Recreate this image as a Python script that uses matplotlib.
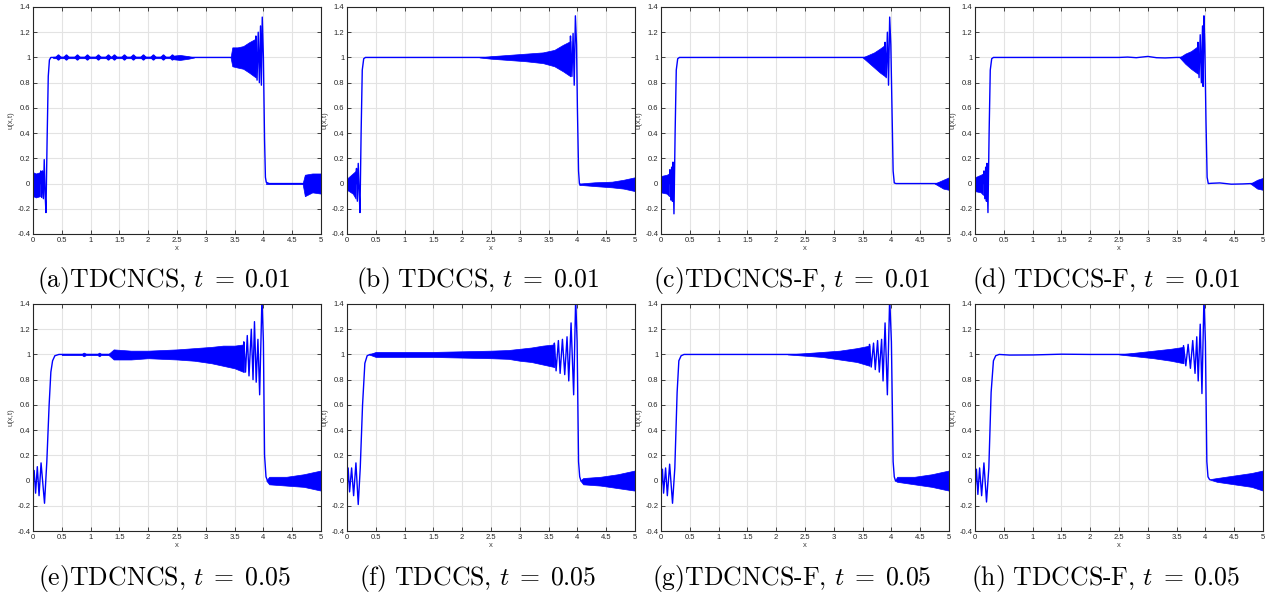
import matplotlib
matplotlib.use("Agg")
import matplotlib.pyplot as plt
from matplotlib.ticker import FormatStrFormatter, MultipleLocator

plt.rcParams['mathtext.fontset'] = 'cm'
plt.rcParams['font.family'] = ['Liberation Sans', 'DejaVu Sans']

BLUE = (0, 0, 1)

# ---- (a) TDCNCS, t = 0.01 ----
a_x = [0.12, 0.135, 0.15, 0.165, 0.18, 0.195, 0.21, 0.225, 0.245, 0.265, 0.285, 0.31, 0.35, 3.45, 3.86,
       3.87, 3.89, 3.91, 3.93, 3.95, 3.965, 3.98, 4.00, 4.02, 4.035, 4.05, 4.10, 5.00]
a_u = [0.0, 0.10, -0.11, 0.10, -0.12, 0.19, -0.08, -0.23, 0.35, 0.85, 0.98, 1.0, 1.0, 1.0, 1.0,
       1.17, 0.82, 1.20, 0.80, 1.25, 0.78, 1.32, 1.0, 0.35, 0.05, 0.01, 0.0, 0.0]
a_bands = [
    ([0.0, 0.05, 0.12], [-0.10, -0.11, -0.10], [0.09, 0.08, 0.09]),
    ([0.35, 2.40, 2.45, 2.55, 2.70, 2.80], [0.994, 0.994, 0.985, 0.98, 0.99, 1.0], [1.006, 1.006, 1.015, 1.02, 1.01, 1.0]),
    ([3.43, 3.46, 3.55, 3.65, 3.75, 3.87], [1.0, 0.93, 0.92, 0.91, 0.88, 0.84], [1.0, 1.08, 1.08, 1.09, 1.12, 1.15]),
    ([4.05, 4.68], [-0.007, -0.007], [0.007, 0.007]),
    ([4.68, 4.72, 4.85, 5.0], [0.0, -0.10, -0.07, -0.08], [0.0, 0.07, 0.08, 0.08]),
]
a_beads = [0.44, 0.58, 0.76, 0.94, 1.13, 1.31, 1.41, 1.58, 1.74, 1.91, 2.09, 2.26, 2.41]

# ---- (b) TDCCS, t = 0.01 ----
b_x = [0.15, 0.165, 0.18, 0.195, 0.21, 0.225, 0.245, 0.265, 0.29, 0.32, 2.30, 3.87,
       3.88, 3.905, 3.925, 3.945, 3.965, 3.985, 4.00, 4.02, 4.035, 4.06]
b_u = [0.0, 0.12, -0.14, 0.16, -0.05, -0.23, 0.40, 0.90, 0.99, 1.0, 1.0, 1.0,
       1.17, 0.85, 1.19, 0.78, 1.33, 1.10, 0.60, 0.10, 0.0, -0.01]
b_bands = [
    ([0.0, 0.10, 0.15], [-0.05, -0.08, -0.12], [0.04, 0.08, 0.10]),
    ([2.3, 2.5, 2.8, 3.1, 3.4, 3.6, 3.75, 3.88], [1.0, 0.99, 0.98, 0.97, 0.955, 0.93, 0.89, 0.85],
     [1.0, 1.01, 1.02, 1.03, 1.04, 1.06, 1.10, 1.13]),
    ([4.03, 4.3, 4.6, 4.8, 5.0], [-0.01, -0.02, -0.03, -0.04, -0.06], [0.0, 0.01, 0.015, 0.03, 0.05]),
]

# ---- (c) TDCNCS-F, t = 0.01 ----
c_x = [0.14, 0.155, 0.17, 0.185, 0.198, 0.208, 0.225, 0.245, 0.265, 0.29, 0.32, 3.50, 3.88,
       3.89, 3.91, 3.93, 3.95, 3.97, 3.99, 4.01, 4.03, 4.05, 4.08, 5.00]
c_u = [0.0, 0.11, -0.13, 0.13, -0.14, 0.17, -0.24, 0.40, 0.90, 0.99, 1.0, 1.0, 1.0,
       1.12, 0.84, 1.20, 0.78, 1.32, 1.10, 0.60, 0.10, 0.005, 0.0, 0.0]
c_bands = [
    ([0.0, 0.10, 0.14], [-0.07, -0.08, -0.10], [0.06, 0.07, 0.08]),
    ([3.5, 3.6, 3.7, 3.8, 3.89], [1.0, 0.96, 0.92, 0.88, 0.85], [1.0, 1.02, 1.04, 1.07, 1.10]),
    ([4.75, 4.9, 5.0], [0.0, -0.04, -0.05], [0.0, 0.03, 0.05]),
]

# ---- (d) TDCCS-F, t = 0.01 ----
d_x = [0.14, 0.155, 0.17, 0.185, 0.198, 0.208, 0.225, 0.245, 0.265, 0.29, 0.32, 2.5, 2.65, 2.8,
       3.0, 3.15, 3.3, 3.5, 3.6, 3.86, 3.87, 3.89, 3.91, 3.93, 3.95, 3.96, 3.975, 3.99, 4.01, 4.03,
       4.05, 4.1, 4.25, 4.45, 4.65, 4.8, 5.0]
d_u = [0.0, 0.10, -0.12, 0.13, -0.14, 0.16, -0.23, 0.40, 0.90, 0.99, 1.0, 1.0, 1.003, 0.998,
       1.008, 0.998, 0.996, 1.0, 1.0, 1.0, 1.12, 0.84, 1.18, 0.80, 1.25, 0.77, 1.33, 1.10, 0.50, 0.05,
       0.0, 0.002, 0.005, -0.005, -0.003, 0.0, 0.0]
d_bands = [
    ([0.0, 0.10, 0.14], [-0.06, -0.07, -0.09], [0.05, 0.07, 0.08]),
    ([3.55, 3.65, 3.75, 3.87], [1.0, 0.95, 0.91, 0.87], [1.0, 1.03, 1.05, 1.09]),
    ([4.78, 4.9, 5.0], [0.0, -0.04, -0.05], [0.0, 0.03, 0.045]),
]

# ---- (e) TDCNCS, t = 0.05 ----
e_x = [0.0, 0.02, 0.045, 0.075, 0.105, 0.14, 0.20, 0.24, 0.28, 0.31, 0.34, 0.38, 0.45, 1.30, 3.65,
       3.66, 3.69, 3.72, 3.75, 3.79, 3.82, 3.845, 3.875, 3.905, 3.935, 3.975, 4.00, 4.02, 4.045, 4.07]
e_u = [-0.02, 0.08, -0.10, 0.11, -0.12, 0.14, -0.18, 0.15, 0.60, 0.86, 0.95, 0.99, 1.0, 1.0, 1.0,
       1.10, 0.86, 1.15, 0.83, 1.20, 0.80, 1.26, 0.78, 1.12, 0.68, 1.45, 1.10, 0.20, 0.03, 0.0]
e_bands = [
    ([0.5, 0.85, 0.88, 0.92, 1.12, 1.15, 1.18, 1.3], [0.995, 0.995, 0.985, 0.995, 0.995, 0.985, 0.995, 0.995],
     [1.005, 1.005, 1.015, 1.005, 1.005, 1.015, 1.005, 1.005]),
    ([1.3, 1.4, 1.7, 2.0, 2.5, 2.8, 3.1, 3.3, 3.5, 3.66], [1.0, 0.96, 0.96, 0.97, 0.96, 0.95, 0.93, 0.91, 0.89, 0.86],
     [1.0, 1.04, 1.03, 1.03, 1.04, 1.05, 1.06, 1.07, 1.07, 1.08]),
    ([4.05, 4.1, 4.4, 4.7, 5.0], [0.0, -0.03, -0.04, -0.05, -0.08], [0.0, 0.03, 0.03, 0.05, 0.08]),
]

# ---- (f) TDCCS, t = 0.05 ----
f_x = [0.0, 0.02, 0.045, 0.08, 0.115, 0.155, 0.195, 0.23, 0.27, 0.31, 0.35, 0.40, 3.59,
       3.60, 3.63, 3.67, 3.70, 3.74, 3.78, 3.82, 3.85, 3.89, 3.935, 3.97, 3.995, 4.02, 4.04, 4.06]
f_u = [-0.08, 0.10, -0.09, 0.10, -0.12, 0.14, -0.19, 0.10, 0.60, 0.93, 0.99, 1.0, 1.0,
       1.09, 0.87, 1.11, 0.85, 1.12, 0.84, 1.14, 0.79, 1.25, 0.68, 1.45, 1.10, 0.15, 0.03, 0.0]
f_bands = [
    ([0.38, 0.5, 1.0, 1.5, 2.0, 2.5, 2.8, 3.0, 3.2, 3.4, 3.6], [1.0, 0.98, 0.98, 0.98, 0.975, 0.97, 0.965, 0.95, 0.94, 0.92, 0.90],
     [1.0, 1.02, 1.02, 1.02, 1.025, 1.03, 1.035, 1.045, 1.055, 1.07, 1.08]),
    ([4.05, 4.1, 4.4, 4.7, 5.0], [0.0, -0.03, -0.04, -0.06, -0.08], [0.0, 0.02, 0.03, 0.05, 0.08]),
]

# ---- (g) TDCNCS-F, t = 0.05 ----
g_x = [0.0, 0.025, 0.045, 0.08, 0.11, 0.15, 0.20, 0.24, 0.28, 0.31, 0.35, 0.40, 2.2, 3.61,
       3.62, 3.65, 3.69, 3.72, 3.76, 3.79, 3.83, 3.855, 3.89, 3.93, 3.97, 4.00, 4.03, 4.05, 4.07]
g_u = [-0.08, 0.09, -0.10, 0.10, -0.12, 0.13, -0.18, 0.10, 0.70, 0.95, 0.99, 1.0, 1.0, 1.0,
       1.08, 0.90, 1.09, 0.88, 1.11, 0.86, 1.12, 0.79, 1.25, 0.68, 1.45, 1.10, 0.15, 0.03, 0.0]
g_bands = [
    ([2.2, 2.5, 2.8, 3.1, 3.4, 3.62], [1.0, 0.99, 0.98, 0.96, 0.94, 0.91], [1.0, 1.01, 1.02, 1.03, 1.05, 1.07]),
    ([4.06, 4.1, 4.4, 4.7, 5.0], [0.0, -0.01, -0.03, -0.05, -0.08], [0.0, 0.03, 0.03, 0.05, 0.08]),
]

# ---- (h) TDCCS-F, t = 0.05 ----
h_x = [0.0, 0.025, 0.05, 0.08, 0.115, 0.155, 0.20, 0.24, 0.28, 0.32, 0.36, 0.42, 0.6, 1.0, 1.5, 2.0, 2.5, 3.61,
       3.62, 3.66, 3.70, 3.74, 3.78, 3.82, 3.85, 3.875, 3.91, 3.94, 3.975, 4.00, 4.025, 4.045, 4.07]
h_u = [-0.08, 0.09, -0.11, 0.10, -0.12, 0.14, -0.17, 0.10, 0.70, 0.95, 0.99, 1.0, 0.995, 0.996, 1.002, 1.0, 1.0, 1.0,
       1.07, 0.91, 1.08, 0.89, 1.11, 0.85, 1.14, 0.79, 1.24, 0.69, 1.45, 1.10, 0.15, 0.03, 0.01]
h_bands = [
    ([2.5, 2.8, 3.1, 3.4, 3.62], [1.0, 0.985, 0.97, 0.95, 0.93], [1.0, 1.015, 1.03, 1.045, 1.06]),
    ([4.06, 4.2, 4.5, 4.8, 5.0], [0.01, -0.01, -0.03, -0.05, -0.08], [0.01, 0.02, 0.04, 0.06, 0.08]),
]

captions = [r"$\mathrm{(a)TDCNCS,}\,t\;=\;0.01$", r"$\mathrm{(b)\ TDCCS,}\,t\;=\;0.01$",
            r"$\mathrm{(c)TDCNCS\text{-}F,}\,t\;=\;0.01$", r"$\mathrm{(d)\ TDCCS\text{-}F,}\,t\;=\;0.01$",
            r"$\mathrm{(e)TDCNCS,}\,t\;=\;0.05$", r"$\mathrm{(f)\ TDCCS,}\,t\;=\;0.05$",
            r"$\mathrm{(g)TDCNCS\text{-}F,}\,t\;=\;0.05$", r"$\mathrm{(h)\ TDCCS\text{-}F,}\,t\;=\;0.05$"]

panels = [(a_x, a_u, a_bands), (b_x, b_u, b_bands), (c_x, c_u, c_bands), (d_x, d_u, d_bands),
          (e_x, e_u, e_bands), (f_x, f_u, f_bands), (g_x, g_u, g_bands), (h_x, h_u, h_bands)]

W, H = 1276, 598
fig = plt.figure(figsize=(W / 100, H / 100), dpi=100)

col_left = [33, 347, 661, 975]
row_top = [7, 304]
ax_w, ax_h = 288, 227
cap_y = [281, 578]

for k, (px, pu, bands) in enumerate(panels):
    r, c = divmod(k, 4)
    l = col_left[c]
    t = row_top[r]
    ax = fig.add_axes([l / W, 1 - (t + ax_h) / H, ax_w / W, ax_h / H])
    for bx, lo, hi in bands:
        ax.fill_between(bx, lo, hi, color=BLUE, lw=0.5)
    ax.plot(px, pu, color=BLUE, lw=1.0)
    if k == 0:
        ax.plot(a_beads, [1.0] * len(a_beads), 'D', color=BLUE, ms=2.6)
    ax.set_xlim(0, 5)
    ax.set_ylim(-0.4, 1.4)
    ax.xaxis.set_major_locator(MultipleLocator(0.5))
    ax.yaxis.set_major_locator(MultipleLocator(0.2))
    ax.xaxis.set_major_formatter(FormatStrFormatter('%g'))
    ax.yaxis.set_major_formatter(FormatStrFormatter('%g'))
    ax.grid(True, color='#e3e3e3', lw=0.8)
    ax.set_axisbelow(True)
    ax.tick_params(direction='in', top=True, right=True, length=3, width=0.6,
                   labelsize=5.5, colors='#262626', pad=2)
    for s in ax.spines.values():
        s.set_color('#262626')
        s.set_linewidth(0.8)
    ax.set_xlabel('x', fontsize=5.5, color='#404040', labelpad=1)
    ax.set_ylabel('u(x,t)', fontsize=5.5, color='#404040', labelpad=2)
    fig.text((l + ax_w / 2 - 13) / W, 1 - cap_y[r] / H, captions[k],
             ha='center', va='center', fontsize=18.5)

fig.savefig('out.png', dpi=100)
